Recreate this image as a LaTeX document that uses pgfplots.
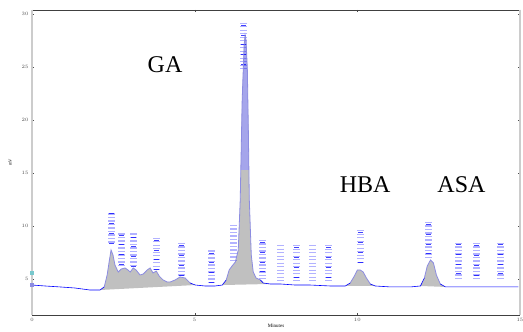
\documentclass[border=0pt]{standalone}
\usepackage{pgfplots}
\pgfplotsset{compat=1.18}
\usepackage{fontspec}
\setmainfont{Liberation Serif}
\definecolor{pk}{RGB}{192,192,192}
\definecolor{lav}{RGB}{165,165,235}
\definecolor{edge}{RGB}{140,140,225}
\definecolor{cy}{RGB}{120,200,205}
\begin{document}
\begin{tikzpicture}
\useasboundingbox (-32pt,-17pt) rectangle (491pt,315pt);
\begin{axis}[
  scale only axis, width=488pt, height=305pt,
  xmin=0, xmax=15, ymin=1.6, ymax=30.4,
  separate axis lines,
  x axis line style={black!75, line width=0.9pt},
  y axis line style={black!20, line width=2.5pt},
  xtick={0,5,10,15}, ytick={5,10,15,20,25,30},
  tick style={black!70}, major tick length=2pt,
  tick label style={font=\fontsize{4.5}{5}\selectfont, black!70},
  xlabel={Minutes}, ylabel={mV},
  xlabel style={font=\fontsize{5}{5}\selectfont, yshift=4pt},
  ylabel style={font=\fontsize{4.5}{5}\selectfont, yshift=3pt},
  clip=false,
]
% peak areas
\addplot[fill=pk, draw=none] coordinates {
(2.09,3.96) (2.22,4.25) (2.31,5.38) (2.37,6.60) (2.43,7.74) (2.49,7.26) (2.55,6.32) (2.65,5.66) (2.74,5.94) (2.86,6.04) (2.95,5.85) (3.02,5.66) (3.11,6.04) (3.20,5.85) (3.32,5.38) (3.42,5.47) (3.54,5.85) (3.63,6.04) (3.72,5.57) (3.82,5.75) (3.91,5.28) (4.03,4.91) (4.15,4.72) (4.25,4.72) (4.40,4.91) (4.55,5.19) (4.71,5.09) (4.86,4.62) (5.02,4.43)};
\addplot[fill=pk, draw=none] coordinates {
(5.85,4.43) (5.97,4.91) (6.06,5.85) (6.15,6.23) (6.25,6.60) (6.34,7.74) (6.40,12.45) (6.46,21.89) (6.52,27.08) (6.55,28.02) (6.58,27.55) (6.62,24.72) (6.65,19.06) (6.68,12.45) (6.74,7.26) (6.80,5.66) (6.89,5.09) (7.02,4.91) (7.11,4.62) (7.32,4.53)};
\addplot[fill=lav, draw=none] coordinates {
(6.42,15.3) (6.46,21.89) (6.52,27.08) (6.55,28.02) (6.58,27.55) (6.62,24.72) (6.65,19.06) (6.67,15.3)};
\addplot[fill=pk, draw=none] coordinates {
(9.63,4.34) (9.78,4.62) (9.91,5.28) (10.00,5.85) (10.09,5.85) (10.18,5.66) (10.28,5.09) (10.40,4.53) (10.55,4.34)};
\addplot[fill=pk, draw=none] coordinates {
(11.94,4.34) (12.06,5.09) (12.15,6.23) (12.25,6.80) (12.34,6.51) (12.43,5.38) (12.55,4.53) (12.71,4.25)};
% peak annotation stripes (unreadable labels)
\pgfplotsset{lbl/.style={blue, opacity=0.3, line width=7pt, dash pattern=on 1.2pt off 2.3pt},
             lbd/.style={blue, opacity=0.75, line width=5pt, dash pattern=on 0.8pt off 9pt}}
\addplot[lbl] coordinates {(2.43,11.2) (2.43,8.4)};
\addplot[lbd] coordinates {(2.43,11.2) (2.43,8.4)};
\addplot[lbl] coordinates {(2.74,9.3) (2.74,6.1)};
\addplot[lbd] coordinates {(2.74,9.2) (2.74,6.1)};
\addplot[lbl] coordinates {(3.11,9.3) (3.11,6.2)};
\addplot[lbd] coordinates {(3.11,9.0) (3.11,6.2)};
\addplot[lbl] coordinates {(3.82,8.9) (3.82,5.6)};
\addplot[lbd] coordinates {(3.82,8.7) (3.82,5.6)};
\addplot[lbl] coordinates {(4.58,8.4) (4.58,5.2)};
\addplot[lbd] coordinates {(4.58,8.2) (4.58,5.2)};
\addplot[lbl] coordinates {(5.51,7.7) (5.51,4.6)};
\addplot[lbd] coordinates {(5.51,7.5) (5.51,4.6)};
\addplot[lbl] coordinates {(6.18,10.1) (6.18,6.5)};
\addplot[lbl] coordinates {(6.49,29.2) (6.49,24.7)};
\addplot[lbd] coordinates {(6.49,29.0) (6.49,24.7)};
\addplot[lbl] coordinates {(7.08,8.7) (7.08,5.0)};
\addplot[lbd] coordinates {(7.08,8.5) (7.08,5.0)};
\addplot[lbl] coordinates {(7.63,8.2) (7.63,4.8)};
\addplot[lbl] coordinates {(8.12,8.2) (8.12,4.8)};
\addplot[lbd] coordinates {(8.12,8.0) (8.12,4.8)};
\addplot[lbl] coordinates {(8.62,8.2) (8.62,4.8)};
\addplot[lbl] coordinates {(9.11,8.2) (9.11,4.7)};
\addplot[lbd] coordinates {(9.11,8.0) (9.11,4.7)};
\addplot[lbl] coordinates {(10.09,9.6) (10.09,6.3)};
\addplot[lbd] coordinates {(10.09,9.4) (10.09,6.3)};
\addplot[lbl] coordinates {(12.18,10.4) (12.18,6.9)};
\addplot[lbd] coordinates {(12.18,10.2) (12.18,6.9)};
\addplot[lbl] coordinates {(13.10,8.4) (13.10,4.8)};
\addplot[lbd] coordinates {(13.10,8.3) (13.10,4.8)};
\addplot[lbl] coordinates {(13.66,8.4) (13.66,4.8)};
\addplot[lbd] coordinates {(13.66,8.2) (13.66,4.8)};
\addplot[lbl] coordinates {(14.40,8.4) (14.40,4.8)};
\addplot[lbd] coordinates {(14.40,8.3) (14.40,4.8)};
% trace: peak outlines
\addplot[edge, line width=0.8pt] coordinates {
(2.22,4.25) (2.31,5.38) (2.37,6.60) (2.43,7.74) (2.49,7.26) (2.55,6.32) (2.65,5.66) (2.74,5.94) (2.86,6.04) (2.95,5.85) (3.02,5.66) (3.11,6.04) (3.20,5.85) (3.32,5.38) (3.42,5.47) (3.54,5.85) (3.63,6.04) (3.72,5.57) (3.82,5.75) (3.91,5.28) (4.03,4.91) (4.15,4.72) (4.25,4.72) (4.40,4.91) (4.55,5.19) (4.71,5.09) (4.86,4.62)};
\addplot[edge, line width=0.8pt] coordinates {
(5.97,4.91) (6.06,5.85) (6.15,6.23) (6.25,6.60) (6.34,7.74) (6.40,12.45) (6.46,21.89) (6.52,27.08) (6.55,28.02) (6.58,27.55) (6.62,24.72) (6.65,19.06) (6.68,12.45) (6.74,7.26) (6.80,5.66) (6.89,5.09) (7.02,4.91)};
\addplot[edge, line width=0.8pt] coordinates {
(9.78,4.62) (9.91,5.28) (10.00,5.85) (10.09,5.85) (10.18,5.66) (10.28,5.09) (10.40,4.53)};
\addplot[edge, line width=0.8pt] coordinates {
(12.06,5.09) (12.15,6.23) (12.25,6.80) (12.34,6.51) (12.43,5.38) (12.55,4.53)};
% trace: baseline
\addplot[blue, line width=0.6pt] coordinates {
(0,4.43) (0.40,4.34) (0.86,4.25) (1.32,4.15) (1.78,3.96) (2.09,3.96) (2.22,4.25)};
\addplot[blue, line width=0.6pt] coordinates {
(4.86,4.62) (5.02,4.43) (5.32,4.34) (5.63,4.34) (5.85,4.43) (5.97,4.91)};
\addplot[blue, line width=0.6pt] coordinates {
(7.02,4.91) (7.11,4.62) (7.32,4.53) (7.63,4.53) (8.09,4.43) (8.55,4.43) (9.17,4.34) (9.63,4.34) (9.78,4.62)};
\addplot[blue, line width=0.6pt] coordinates {
(10.40,4.53) (10.55,4.34) (11.02,4.25) (11.63,4.25) (11.94,4.34) (12.06,5.09)};
\addplot[blue, line width=0.6pt] coordinates {
(12.55,4.53) (12.71,4.25) (13.48,4.25) (14.40,4.25) (14.95,4.25)};
% start marker on the axis
\addplot[cy, only marks, mark=square*, mark size=1.5pt] coordinates {(0,5.55)};
\addplot[edge, only marks, mark=square*, mark size=1.5pt] coordinates {(0,4.45)};
\node[font=\fontsize{24}{24}\selectfont] at (axis cs:4.09,25.2) {GA};
\node[font=\fontsize{24}{24}\selectfont] at (axis cs:10.24,13.9) {HBA};
\node[font=\fontsize{24}{24}\selectfont] at (axis cs:13.2,13.9) {ASA};
\end{axis}
\end{tikzpicture}
\end{document}
